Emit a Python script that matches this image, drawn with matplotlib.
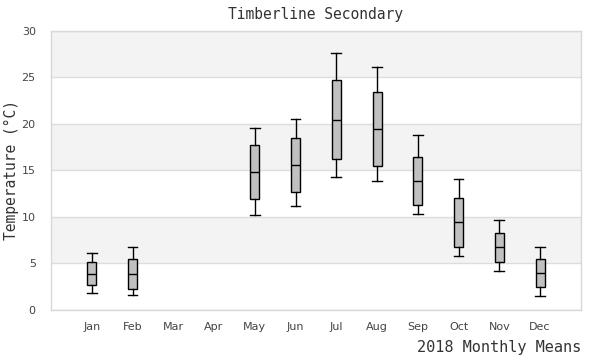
import matplotlib
matplotlib.use("Agg")
import matplotlib.pyplot as plt

# Monthly temperature summaries (deg C)
months = ["Jan", "Feb", "Mar", "Apr", "May", "Jun",
          "Jul", "Aug", "Sep", "Oct", "Nov", "Dec"]
box_months = ["Jan", "Feb", "May", "Jun", "Jul", "Aug",
              "Sep", "Oct", "Nov", "Dec"]
whisker_low = [1.79, 1.58, 10.17, 11.14, 14.25, 13.82, 10.31, 5.77, 4.18, 1.47]
q1 = [2.65, 2.22, 11.89, 12.64, 16.18, 15.47, 11.28, 6.73, 5.12, 2.44]
median = [3.86, 3.83, 14.79, 15.58, 20.41, 19.41, 13.82, 9.42, 6.73, 3.94]
q3 = [5.12, 5.44, 17.69, 18.47, 24.67, 23.38, 16.40, 12.06, 8.23, 5.44]
whisker_high = [6.09, 6.73, 19.50, 20.52, 27.57, 26.14, 18.76, 14.11, 9.63, 6.73]

y_ticks = [0, 5, 10, 15, 20, 25, 30]
band_edges = [(5, 10), (15, 20), (25, 30)]

mono = "DejaVu Sans Mono"

fig = plt.figure(figsize=(6, 3.6), dpi=100)
ax = fig.add_axes([0.085, 0.139, 0.883, 0.776])

for lo, hi in band_edges:
    ax.axhspan(lo, hi, color="#f3f3f3", zorder=0, lw=0)

stats = []
for i, m in enumerate(box_months):
    stats.append({
        "label": m,
        "whislo": whisker_low[i],
        "q1": q1[i],
        "med": median[i],
        "q3": q3[i],
        "whishi": whisker_high[i],
        "fliers": [],
    })
positions = [months.index(m) + 1 for m in box_months]

ax.bxp(
    stats,
    positions=positions,
    widths=0.22,
    patch_artist=True,
    showfliers=False,
    boxprops=dict(facecolor="#c0c0c0", edgecolor="black", linewidth=1.0),
    medianprops=dict(color="black", linewidth=1.0),
    whiskerprops=dict(color="black", linewidth=1.0),
    capprops=dict(color="black", linewidth=1.0),
    capwidths=0.24,
    zorder=3,
)

ax.set_xlim(0, 13)
ax.set_ylim(0, 30)
ax.set_xticks(range(1, 13))
ax.set_xticklabels(months)
ax.set_yticks(y_ticks)
ax.yaxis.grid(True, color="#dddddd", linewidth=1.0, zorder=1)
ax.set_axisbelow(True)
ax.tick_params(axis="both", length=0, labelsize=8, colors="#444444")
ax.tick_params(axis="x", pad=9)
ax.tick_params(axis="y", pad=11)
for s in ax.spines.values():
    s.set_color("#d8d8d8")
    s.set_linewidth(1.0)

ax.set_title("Timberline Secondary", fontsize=10.5, family=mono,
             color="#333333", pad=8)
ax.set_ylabel("Temperature (°C)", fontsize=10.5, family=mono,
              color="#333333", labelpad=2)
fig.text(0.968, 0.035, "2018 Monthly Means", ha="right", va="center",
         fontsize=11, family=mono, color="#333333")

fig.savefig("out.png", dpi=100)
